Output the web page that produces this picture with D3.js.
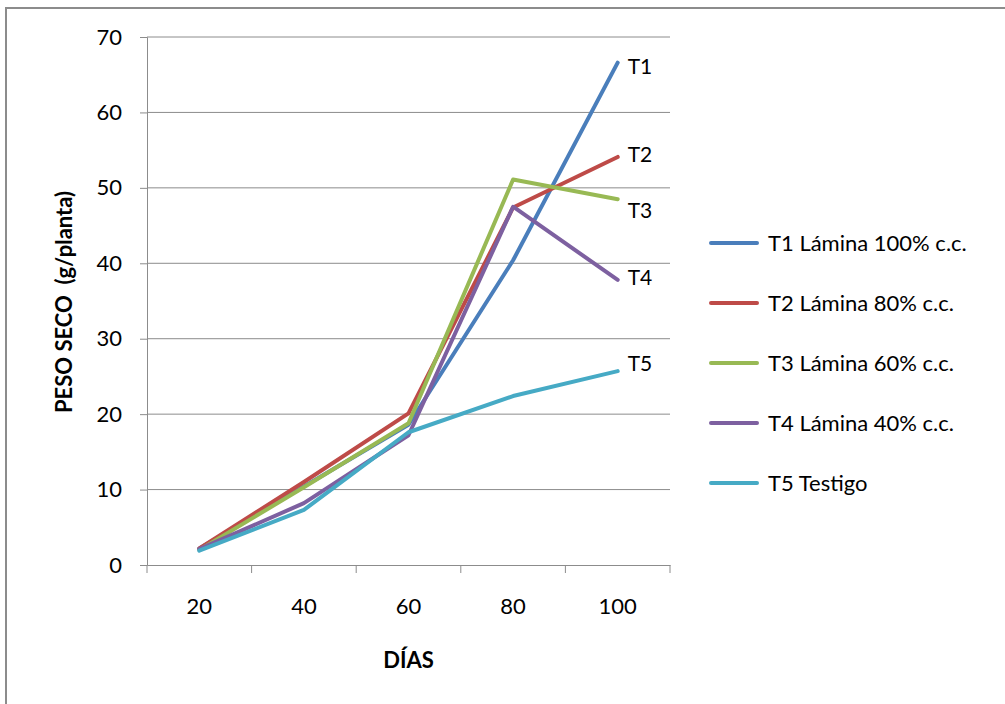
<!DOCTYPE html>
<html>
<head>
<meta charset="utf-8">
<script src="https://cdn.jsdelivr.net/npm/d3@7"></script>
<style>
  html, body { margin: 0; padding: 0; background: #fff; }
  svg { display: block; }
  text { font-family: Lato, "Open Sans", sans-serif; fill: #000; }
</style>
</head>
<body>
<svg id="chart" width="1005" height="704"></svg>
<script>
// Dry weight per plant (g) measured at each sampling day
const dias = ["20", "40", "60", "80", "100"];
const seriesNames = ["T1 Lámina 100% c.c.", "T2 Lámina 80% c.c.", "T3 Lámina 60% c.c.", "T4 Lámina 40% c.c.", "T5 Testigo"];
const shortNames = ["T1", "T2", "T3", "T4", "T5"];
const t1 = [2.2, 10.4, 18.6, 40.4, 66.6];
const t2 = [2.2, 11.0, 20.1, 47.4, 54.1];
const t3 = [2.0, 10.3, 18.8, 51.1, 48.5];
const t4 = [2.1, 8.2, 17.2, 47.5, 37.8];
const t5 = [1.9, 7.3, 17.6, 22.4, 25.7];
const yTicks = [0, 10, 20, 30, 40, 50, 60, 70];

const seriesValues = [t1, t2, t3, t4, t5];
const colors = ["#4A7EBB", "#BE4B48", "#98B954", "#7D60A0", "#46AAC5"];

const svg = d3.select("#chart");

// outer chart frame
svg.append("rect")
  .attr("x", 6).attr("y", 8)
  .attr("width", 1020).attr("height", 720)
  .attr("fill", "none")
  .attr("stroke", "#8c8c8c")
  .attr("stroke-width", 2);

const plot = { left: 147, right: 670, top: 37, bottom: 565 };

const x = d3.scaleBand().domain(dias).range([plot.left, plot.right]);
const y = d3.scaleLinear().domain([0, 70]).range([plot.bottom, plot.top]);

// horizontal gridlines
svg.append("g")
  .selectAll("line")
  .data(yTicks.filter(d => d > 0))
  .join("line")
  .attr("x1", plot.left).attr("x2", plot.right)
  .attr("y1", d => y(d)).attr("y2", d => y(d))
  .attr("stroke", "#8c8c8c").attr("stroke-width", 1);

// y axis
const yAxis = svg.append("g")
  .attr("transform", `translate(${plot.left},0)`)
  .call(d3.axisLeft(y).tickValues(yTicks).tickSize(7).tickPadding(18));
yAxis.select(".domain").attr("stroke", "#8c8c8c");
yAxis.selectAll(".tick line").attr("stroke", "#8c8c8c");
yAxis.selectAll(".tick text")
  .style("font-family", "Lato, sans-serif")
  .style("font-size", "22px")
  .attr("fill", "#000");

// x axis with tick marks on band boundaries
const xAxis = svg.append("g")
  .attr("transform", `translate(0,${plot.bottom})`)
  .call(d3.axisBottom(x).tickSize(0).tickPadding(33));
xAxis.select(".domain").attr("stroke", "#8c8c8c");
xAxis.selectAll(".tick text")
  .style("font-family", "Lato, sans-serif")
  .style("font-size", "22px")
  .attr("fill", "#000");
const bounds = dias.map(d => x(d)).concat([x(dias[dias.length - 1]) + x.bandwidth()]);
svg.append("g")
  .selectAll("line")
  .data(bounds)
  .join("line")
  .attr("x1", d => d).attr("x2", d => d)
  .attr("y1", plot.bottom).attr("y2", plot.bottom + 8)
  .attr("stroke", "#8c8c8c");

// axis titles
svg.append("text")
  .attr("transform", `translate(72,302) rotate(-90)`)
  .attr("text-anchor", "middle")
  .style("font-size", "22px")
  .style("font-weight", "bold")
  .style("white-space", "pre")
  .text("PESO SECO  (g/planta)");

svg.append("text")
  .attr("x", x("60") + x.bandwidth() / 2)
  .attr("y", 668)
  .attr("text-anchor", "middle")
  .style("font-size", "22px")
  .style("font-weight", "bold")
  .text("DÍAS");

// series lines
const line = d3.line()
  .x((d, i) => x(dias[i]) + x.bandwidth() / 2)
  .y(d => y(d));

svg.append("g")
  .selectAll("path")
  .data(seriesValues)
  .join("path")
  .attr("d", d => line(d))
  .attr("fill", "none")
  .attr("stroke", (d, i) => colors[i])
  .attr("stroke-width", 4)
  .attr("stroke-linejoin", "round")
  .attr("stroke-linecap", "round");

// end-of-line labels, nudged to keep them apart
const labelNudge = [4, -2, 11, -2, -7];
const lastX = x(dias[dias.length - 1]) + x.bandwidth() / 2;
svg.append("g")
  .selectAll("text")
  .data(seriesValues)
  .join("text")
  .attr("x", lastX + 10)
  .attr("y", (d, i) => y(d[d.length - 1]) + labelNudge[i])
  .attr("dy", "0.35em")
  .style("font-size", "21px")
  .text((d, i) => shortNames[i]);

// legend
const legend = svg.append("g")
  .selectAll("g")
  .data(seriesNames)
  .join("g")
  .attr("transform", (d, i) => `translate(711,${243 + i * 60})`);
legend.append("line")
  .attr("x1", 0).attr("x2", 46)
  .attr("stroke", (d, i) => colors[i])
  .attr("stroke-width", 4)
  .attr("stroke-linecap", "round");
legend.append("text")
  .attr("x", 57)
  .attr("dy", "0.35em")
  .style("font-size", "22px")
  .text(d => d);
</script>
</body>
</html>
